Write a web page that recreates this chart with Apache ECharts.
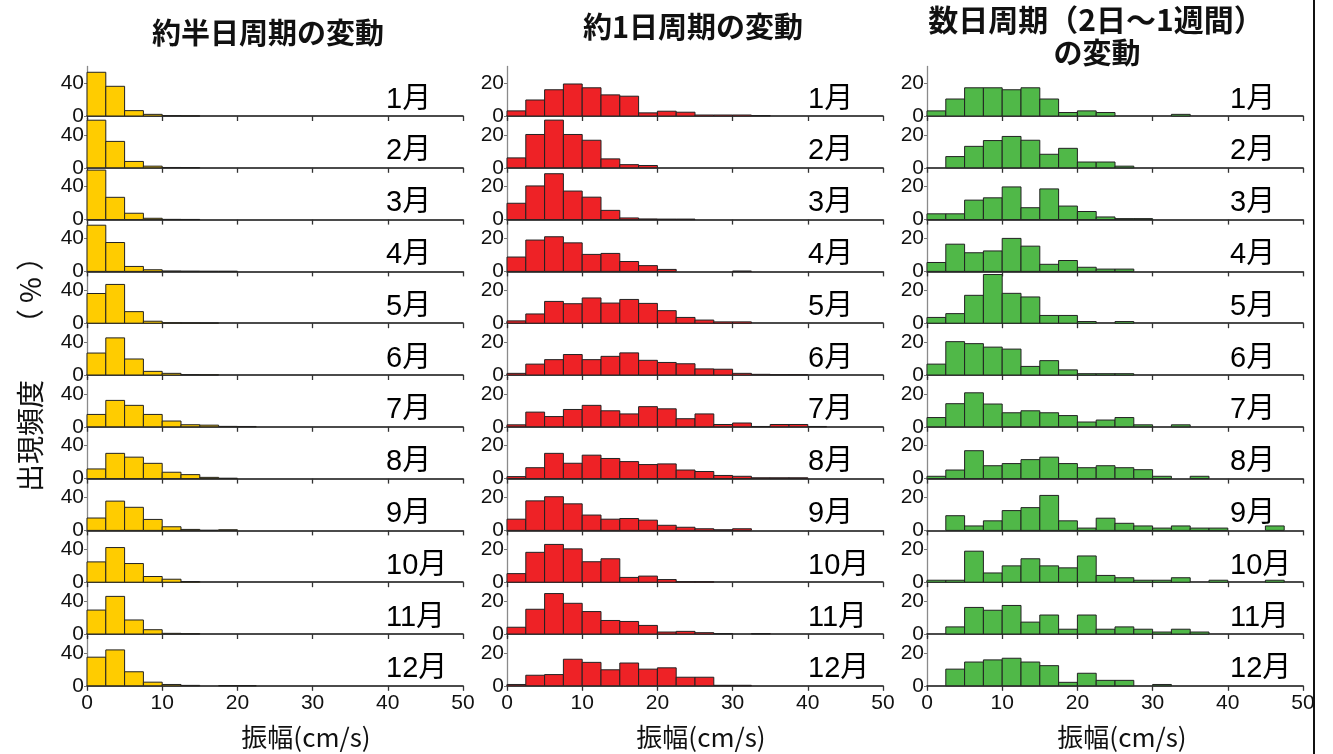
<!DOCTYPE html>
<html>
<head>
<meta charset="utf-8">
<style>
  html, body { margin: 0; padding: 0; background: #fff; }
  #chart { width: 1333px; height: 754px; }
</style>
<script src="https://cdn.jsdelivr.net/npm/echarts@6/dist/echarts.min.js"></script>
</head>
<body>
<div id="chart"></div>
<script>
// Monthly amplitude histograms (bin width 2.5 cm/s, 0–50 cm/s), frequency in %.
const months = ['1月','2月','3月','4月','5月','6月','7月','8月','9月','10月','11月','12月'];
const binWidth = 2.5;
const xTicks = [0, 10, 20, 30, 40, 50];
const columnTitles = ['約半日周期の変動', '約1日周期の変動', '数日周期（2日～1週間）', 'の変動'];

// Semi-diurnal band
const halfDay = [
  [53, 36, 6.5, 2, 0.5, 0.2],
  [57.7, 32, 7.7, 2, 0.4, 0.3],
  [60, 27, 7.7, 1.6, 0.3, 0.2],
  [56, 35, 6, 2, 0.5, 0.3, 0.2, 0.2],
  [36, 47, 14, 2.4, 0.5, 0.3, 0.2],
  [26.6, 45, 19.4, 4.4, 2, 0.5, 0.3],
  [15, 32, 26, 15, 7, 2.5, 2, 0.5, 0.4],
  [11.7, 30.6, 26, 18.5, 7.7, 4.8, 1.5, 0.5],
  [15, 35.5, 28, 13.3, 4.4, 1.2, 0.2, 0.8],
  [24.6, 42, 22.6, 6.9, 3.6, 0.8],
  [29, 45.6, 17, 5.2, 0.8, 0.4],
  [34.7, 43.5, 17, 4.4, 1.6, 0.5, 0, 0.3, 0.3]
];

// Diurnal band
const oneDay = [
  [3.1, 9.7, 15.9, 19.4, 17.1, 12.8, 12, 1.9, 2.9, 2.3, 0.6, 0.6, 0.6, 0.3],
  [6, 20.2, 28.9, 20.2, 16.7, 5.4, 1.9, 1.4],
  [9.9, 20.4, 27.8, 17.3, 13.6, 5.6, 1, 0.4, 0.3, 0.3],
  [8.7, 19, 21, 17.3, 10.3, 10.9, 6, 3.5, 1.2, 0, 0, 0, 0.2],
  [1.4, 5.6, 13.2, 11.8, 15.3, 12.2, 14.4, 12, 7.6, 3.5, 1.9, 0.8, 0.8],
  [1, 6.6, 9.3, 12.4, 9.3, 11.3, 13.4, 8.9, 7.6, 6.8, 3.7, 3.5, 1, 0.4, 0.2, 0.2],
  [1.2, 8.9, 6.2, 10.5, 13, 9.7, 7.8, 12.2, 10.9, 4.9, 7.8, 1.4, 2.3, 0.2, 1.4, 1.4, 0.2],
  [1.2, 6.6, 15.3, 9.3, 14.2, 12.2, 10.3, 8.5, 8.9, 5.2, 4.3, 1.9, 1.4, 0.5, 0.5, 0.5],
  [6.8, 17.9, 20.4, 16.1, 9.3, 6.8, 7.2, 6.2, 3.1, 1.9, 1, 0.4, 1],
  [5.2, 18.1, 22.9, 20.2, 12.4, 14.2, 2.9, 3.7, 1.6, 0.3, 0.3],
  [4.1, 15, 24.5, 18.6, 13.6, 8.2, 7.6, 5.2, 1.2, 1.6, 0.8, 0.3, 0, 0.3],
  [0.8, 6.4, 6.8, 16.1, 14.2, 9.7, 13.8, 10.1, 10.9, 5.2, 5.2, 0.3, 0.3]
];

// Several-day band (2 days – 1 week)
const severalDay = [
  [3.1, 10.3, 17.1, 17.1, 15.9, 17.1, 10.3, 2.1, 3.1, 2.1, 0, 0, 0, 1.0],
  [0, 6.8, 13, 16.5, 19, 16.7, 8.2, 11.8, 3.5, 3.5, 1.0],
  [3.5, 3.5, 11.8, 13.2, 19.8, 7.2, 18.6, 8.2, 4.9, 1.6, 0.6, 0.6],
  [5.4, 16.5, 11.3, 12.4, 20, 15.3, 4.3, 6.6, 2.5, 1.4, 1.4],
  [3.5, 5.8, 16.9, 29.5, 18.1, 15.9, 4.7, 4.7, 1.0, 0, 1.0],
  [6.6, 20.2, 19, 16.9, 15.7, 5.2, 8.7, 3.1, 0.8, 0.8, 0.8],
  [5.6, 14, 20.6, 13.8, 8.5, 9.7, 8.5, 6.8, 2.9, 4.1, 5.6, 1.2, 0, 1.2],
  [1.4, 5.2, 16.9, 7.8, 9.1, 11.5, 13, 9.1, 6.6, 7.8, 6.6, 5.4, 1.4, 0, 1.4],
  [0, 8.9, 2.7, 5.8, 12, 13.8, 21.2, 5.8, 1.4, 7.4, 4.3, 2.7, 1.4, 2.7, 1.4, 1.4, 0, 0, 2.7],
  [1.2, 1.2, 18.8, 5.6, 9.9, 14.2, 9.9, 8.7, 15.9, 4.1, 2.7, 1.2, 1.2, 2.7, 0, 1.2, 0, 0, 1.2],
  [0, 4.3, 16.1, 14.4, 17.3, 7.2, 11.5, 2.9, 11.5, 2.9, 4.3, 2.9, 1.2, 2.9, 1.2],
  [0, 10.1, 14.4, 15.7, 16.7, 14.4, 12.2, 2.1, 7.6, 3.3, 3.3, 0, 0.8]
];

const columns = [
  { data: halfDay,    color: '#FFCC00', yMax: 60, yTicks: [0, 40] },
  { data: oneDay,     color: '#EE2226', yMax: 30, yTicks: [0, 20] },
  { data: severalDay, color: '#50B848', yMax: 30, yTicks: [0, 20] }
];

// Layout
const colLeft = [87, 507, 927];
const colWidth = 376;
const firstZero = 116;
const rowStep = 51.8;
const panelH = 49.5;
const monthLabelX = [386, 808, 1230];
const fontLatin = '"Liberation Sans", Arial, "Noto Sans CJK JP", sans-serif';
const fontCJK = '"Noto Sans CJK JP", "Liberation Sans", sans-serif';

const grids = [], xAxes = [], yAxes = [], series = [], graphics = [];

columns.forEach((col, c) => {
  col.data.forEach((vals, r) => {
    const idx = grids.length;
    const zeroY = firstZero + r * rowStep;
    const isBottom = r === months.length - 1;
    grids.push({ left: colLeft[c], width: colWidth, top: zeroY - panelH, height: panelH });
    xAxes.push({
      type: 'value', gridIndex: idx, min: 0, max: 50, interval: 10,
      axisLine: { show: true, lineStyle: { color: '#111', width: 1.6 } },
      axisTick: { show: true, length: 5, lineStyle: { color: '#333', width: 1.3 } },
      axisLabel: { show: isBottom, fontSize: 21, color: '#111', margin: 7, fontFamily: fontLatin },
      splitLine: { show: false }
    });
    yAxes.push({
      type: 'value', gridIndex: idx, min: 0, max: col.yMax,
      axisLine: { show: true, lineStyle: { color: '#8a8a8a', width: 1.3 } },
      axisTick: { show: true, length: 3, customValues: col.yTicks, lineStyle: { color: '#777' } },
      axisLabel: { show: true, customValues: col.yTicks, fontSize: 21, color: '#111', margin: 3, fontFamily: fontLatin },
      splitLine: { show: false }
    });
    const bins = [];
    vals.forEach((v, k) => { if (v > 0) bins.push([k * binWidth, (k + 1) * binWidth, v]); });
    series.push({
      type: 'custom', xAxisIndex: idx, yAxisIndex: idx,
      encode: { x: [0, 1], y: 2 },
      data: bins,
      clip: false,
      renderItem: (params, api) => {
        const p0 = api.coord([api.value(0), 0]);
        const p1 = api.coord([api.value(1), api.value(2)]);
        return {
          type: 'rect',
          shape: { x: p0[0], y: p1[1], width: p1[0] - p0[0], height: p0[1] - p1[1] },
          style: { fill: col.color, stroke: '#222', lineWidth: 1 }
        };
      }
    });
    graphics.push({
      type: 'text', x: monthLabelX[c], y: zeroY - 16.5,
      style: { text: months[r], font: '29px ' + fontLatin, fill: '#000', verticalAlign: 'middle' }
    });
  });
});

// Column titles
const titleFont = 'bold 29px ' + fontCJK;
graphics.push({ type: 'text', x: 268, y: 33, style: { text: columnTitles[0], font: titleFont, fill: '#111', align: 'center', verticalAlign: 'middle' } });
graphics.push({ type: 'text', x: 693, y: 27, style: { text: columnTitles[1], font: titleFont, fill: '#111', align: 'center', verticalAlign: 'middle' } });
graphics.push({ type: 'text', x: 1096, y: 20, style: { text: columnTitles[2], font: 'bold 30px ' + fontCJK, fill: '#111', align: 'center', verticalAlign: 'middle' } });
graphics.push({ type: 'text', x: 1097, y: 53, style: { text: columnTitles[3], font: titleFont, fill: '#111', align: 'center', verticalAlign: 'middle' } });

// Axis names
['振幅(cm/s)', '振幅(cm/s)', '振幅(cm/s)'].forEach((t, c) => {
  graphics.push({ type: 'text', x: [306, 701, 1122][c], y: 737, style: { text: t, font: '26px ' + fontCJK, fill: '#111', align: 'center', verticalAlign: 'middle' } });
});
graphics.push({ type: 'text', x: 30, y: 436, rotation: Math.PI / 2, style: { text: '出現頻度', font: '28px ' + fontCJK, fill: '#111', align: 'center', verticalAlign: 'middle' } });
graphics.push({ type: 'text', x: 30, y: 290, rotation: Math.PI / 2, style: { text: '（ % ）', font: '28px ' + fontCJK, fill: '#111', align: 'center', verticalAlign: 'middle' } });

// Right border
graphics.push({ type: 'line', shape: { x1: 1314, y1: 0, x2: 1314, y2: 754 }, style: { stroke: '#111', lineWidth: 2 } });

const chart = echarts.init(document.getElementById('chart'), null, { renderer: 'canvas' });
chart.setOption({
  animation: false,
  backgroundColor: '#fff',
  grid: grids,
  xAxis: xAxes,
  yAxis: yAxes,
  series: series,
  graphic: graphics
});
</script>
</body>
</html>
